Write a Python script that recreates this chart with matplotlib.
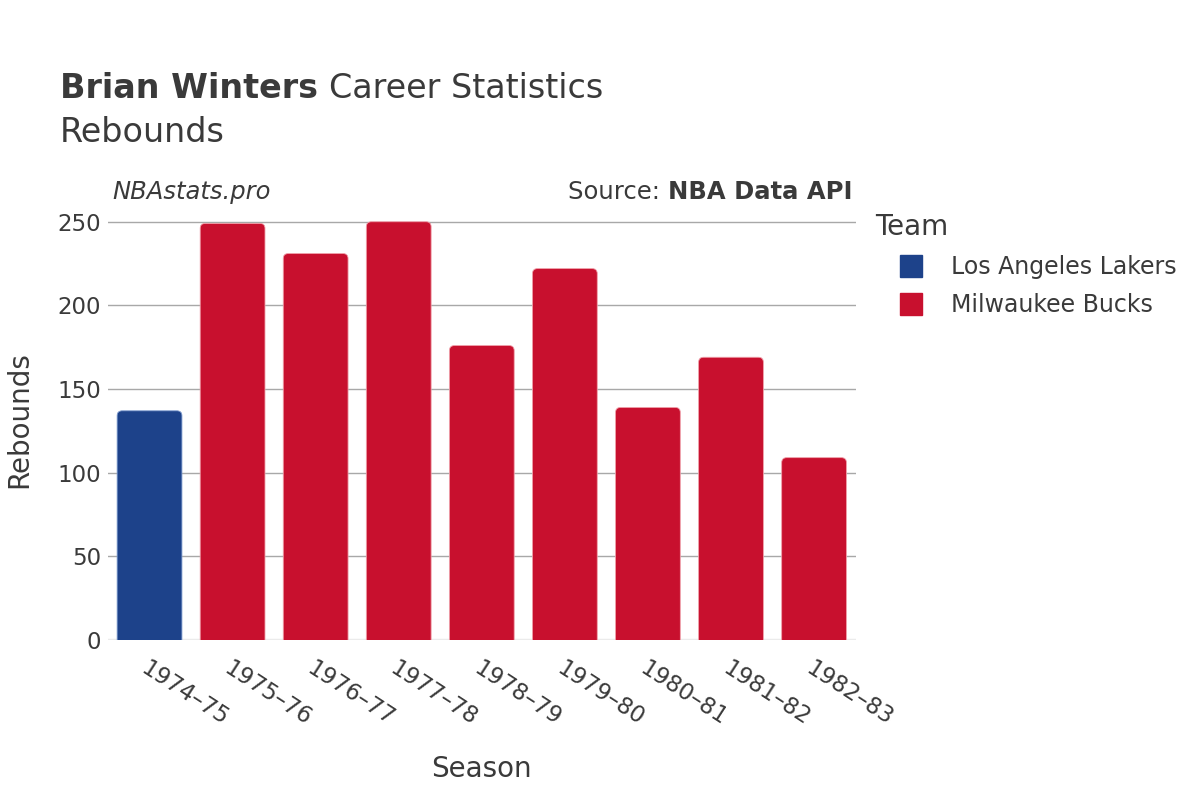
import matplotlib
matplotlib.use("Agg")
import matplotlib.pyplot as plt
from matplotlib.patches import FancyBboxPatch
from matplotlib.lines import Line2D

plt.rcParams.update({"font.family": "DejaVu Sans"})

seasons = ["1974–75", "1975–76", "1976–77", "1977–78", "1978–79",
           "1979–80", "1980–81", "1981–82", "1982–83"]
rebounds = [137, 249, 231, 250, 176, 222, 139, 169, 109]
teams = ["Los Angeles Lakers"] + ["Milwaukee Bucks"] * 8
team_names = ["Los Angeles Lakers", "Milwaukee Bucks"]
team_colors = {"Los Angeles Lakers": "#1d428a", "Milwaukee Bucks": "#c8102e"}
edge_colors = {"Los Angeles Lakers": "#7f9ccf", "Milwaukee Bucks": "#f0a0aa"}

txt = "#3a3a3a"
W, H = 1200, 800
fig = plt.figure(figsize=(12, 8), dpi=100)
ax_pos = [0.09, 0.2, 0.623, 0.55]
ax = fig.add_axes(ax_pos)

ymax = 263
ax.set_xlim(-0.5, len(seasons) - 0.5)
ax.set_ylim(0, ymax)

# rounded top corners, ~5 px
w = 0.78
px_x = ax_pos[2] * W / len(seasons)
px_y = ax_pos[3] * H / ymax
r = 5 / px_x
aspect = px_x / px_y
for i, (v, t) in enumerate(zip(rebounds, teams)):
    p = FancyBboxPatch((i - w / 2, -10), w, v + 10,
                       boxstyle=f"round,pad=0,rounding_size={r}",
                       mutation_aspect=aspect,
                       facecolor=team_colors[t], edgecolor=edge_colors[t],
                       linewidth=0.6, zorder=3)
    ax.add_patch(p)

ax.set_yticks([0, 50, 100, 150, 200, 250])
ax.grid(axis="y", color="#a8a8a8", linewidth=1, zorder=0)
ax.axhline(0, color="#ebebeb", linewidth=2.5, zorder=2)
for s in ax.spines.values():
    s.set_visible(False)
ax.tick_params(axis="both", length=0, labelsize=16.5, labelcolor=txt)
ax.tick_params(axis="y", pad=5)
ax.set_xticks(range(len(seasons)))
ax.set_xticklabels(seasons, rotation=-33, ha="left", rotation_mode="anchor")
ax.tick_params(axis="x", pad=12)

ax.set_xlabel("Season", fontsize=20, color=txt, labelpad=18)
ax.set_ylabel("Rebounds", fontsize=20, color=txt, labelpad=17)

fig.canvas.draw()
rend = fig.canvas.get_renderer()

# title: bold name followed by normal text
t1 = fig.text(0.05, 0.889, "Brian Winters", fontsize=24, fontweight="bold", color=txt, va="center")
bb = t1.get_window_extent(rend)
fig.text(bb.x1 / W + 0.009, 0.889, "Career Statistics", fontsize=24, color=txt, va="center")
fig.text(0.05, 0.835, "Rebounds", fontsize=24, color=txt, va="center")

fig.text(0.094, 0.76, "NBAstats.pro", fontsize=17.5, style="italic", color=txt, va="center")
src_b = fig.text(0.71, 0.76, "NBA Data API", fontsize=17.5, fontweight="bold", color=txt,
                 va="center", ha="right")
bb = src_b.get_window_extent(rend)
fig.text(bb.x0 / W, 0.76, "Source: ", fontsize=17.5, color=txt, va="center", ha="right")

handles = [Line2D([], [], marker="s", linestyle="", markersize=16,
                  markerfacecolor=team_colors[n], markeredgecolor=team_colors[n])
           for n in team_names]
leg = fig.legend(handles, team_names, loc="upper left", bbox_to_anchor=(0.7295, 0.734),
                 frameon=False, fontsize=17, title="Team", title_fontsize=20,
                 handlelength=3.05, handletextpad=0.17, labelspacing=0.6,
                 alignment="left", borderpad=0, borderaxespad=0)
for t in leg.get_texts():
    t.set_color(txt)
leg.get_title().set_color(txt)

fig.savefig("out.png", dpi=100)
